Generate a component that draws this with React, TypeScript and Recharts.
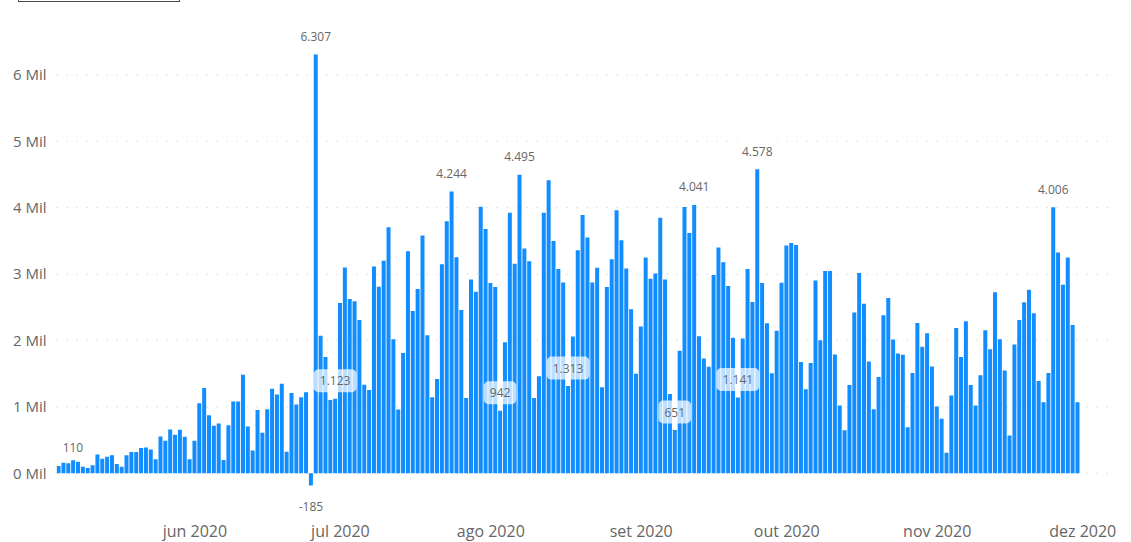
import React from 'react';
import { BarChart, Bar, XAxis, YAxis, CartesianGrid, LabelList } from 'recharts';

// Daily values from 2020-05-04 (day 0) to 2020-11-30 (day 210)
const startDate = '2020-05-04';
const dailyValues: number[] = [
  110, 160, 150, 195, 175, 100, 80, 120, 285, 220,
  250, 270, 140, 100, 270, 320, 320, 380, 390, 360,
  210, 555, 490, 660, 580, 655, 550, 210, 490, 1055,
  1285, 875, 715, 750, 200, 725, 1080, 1080, 1485, 705,
  345, 955, 610, 965, 1275, 1185, 1350, 325, 1210, 1035,
  1145, 1220, -185, 6307, 2070, 1750, 1105, 1123, 2565, 3100,
  2625, 2590, 2310, 1335, 1255, 3115, 2810, 3200, 3705, 2020,
  960, 1810, 3345, 2445, 2775, 3580, 2080, 1145, 1420, 3150,
  3795, 4244, 3255, 2460, 1135, 2920, 2735, 4015, 3680, 2865,
  2805, 942, 1975, 3925, 3155, 4495, 3385, 3195, 1135, 1460,
  3925, 4415, 3500, 3075, 2875, 1313, 2060, 3360, 3890, 3550,
  2875, 3095, 1295, 2805, 3225, 3960, 3510, 3085, 2470, 1500,
  2210, 3250, 2930, 3010, 3850, 2920, 1195, 651, 1845, 4010,
  3620, 4041, 2065, 1730, 1605, 2985, 3400, 3180, 2820, 2040,
  1141, 2030, 3075, 2580, 4578, 2865, 2260, 1505, 2145, 2870,
  3430, 3470, 3440, 1675, 1265, 1660, 2905, 2005, 3045, 3045,
  1790, 1020, 650, 1330, 2420, 3015, 2555, 1685, 965, 1450,
  2380, 2640, 2015, 1805, 1785, 695, 1510, 2265, 1905, 2110,
  1610, 1005, 820, 310, 1170, 2190, 1750, 2290, 1330, 1020,
  1475, 2155, 1870, 2725, 2020, 1550, 570, 1940, 2310, 2575,
  2765, 2410, 1390, 1070, 1510, 4006, 3325, 2840, 3250, 2235,
  1070,
];

// Day offsets (from startDate) of the first day of each month shown on the axis
const monthTickDays = [28, 58, 89, 120, 150, 181, 211];
const monthTickLabels = ['jun 2020', 'jul 2020', 'ago 2020', 'set 2020', 'out 2020', 'nov 2020', 'dez 2020'];

const yTicks = [0, 1000, 2000, 3000, 4000, 5000, 6000];

// Days that carry a data label
const labeledDays = [0, 52, 53, 57, 81, 91, 95, 105, 127, 131, 140, 144, 205];

const data = dailyValues.map((v, i) => ({
  day: i,
  v,
  lbl: labeledDays.includes(i) ? v : null,
}));

const FONT = "'Open Sans', 'Noto Sans', sans-serif";
const PLOT_LEFT = 56.6;
const BAR_COLOR = '#118DFF';
const TEXT_COLOR = '#666666';

const formatPt = (n: number): string => {
  const neg = n < 0;
  const s = Math.abs(Math.round(n)).toString();
  const withSep = s.replace(/\B(?=(\d{3})+(?!\d))/g, '.');
  return (neg ? '-' : '') + withSep;
};

const textWidth = (t: string): number => {
  let w = 0;
  for (const ch of t) {
    if (ch === '.') w += 3.3;
    else if (ch === '-') w += 4.5;
    else w += 6.9;
  }
  return w;
};

const renderLabel = (props: any) => {
  const { x, y, width, height, value } = props;
  if (value === null || value === undefined) return null;
  const num = Number(value);
  const top = Math.min(Number(y), Number(y) + Number(height));
  const bottom = Math.max(Number(y), Number(y) + Number(height));
  const text = formatPt(num);
  const bw = textWidth(text) + 12;
  const bh = 23;
  let cx = Number(x) + Number(width) / 2;
  if (cx - bw / 2 < PLOT_LEFT) cx = PLOT_LEFT + bw / 2;
  const cy = num < 0 ? bottom + 21 : top - 18;
  return (
    <g>
      <rect x={cx - bw / 2} y={cy - bh / 2} width={bw} height={bh} rx={5} ry={5} fill="#ffffff" fillOpacity={0.72} />
      <text x={cx} y={cy} textAnchor="middle" dominantBaseline="central" fontSize={12} fontFamily={FONT} fill={TEXT_COLOR}>
        {text}
      </text>
    </g>
  );
};

export default function App() {
  return (
    <div style={{ position: 'absolute', left: 0, top: 0, width: 1131, height: 542, background: '#fff', overflow: 'hidden' }}>
      <div
        style={{
          position: 'absolute',
          left: 18,
          top: -40,
          width: 162,
          height: 42,
          boxSizing: 'border-box',
          border: '1px solid #4a4a4a',
        }}
      />
      <BarChart
        width={1131}
        height={542}
        data={data}
        margin={{ top: 8.5, right: 16.7, bottom: 0, left: 0 }}
      >
        <CartesianGrid vertical={false} horizontalValues={yTicks} stroke="#c6c6c6" strokeDasharray="1 9" />
        <XAxis
          type="number"
          dataKey="day"
          domain={[-0.5, 217.5]}
          ticks={monthTickDays}
          interval={0}
          tickFormatter={(d: number) => monthTickLabels[monthTickDays.indexOf(d)] ?? ''}
          axisLine={false}
          tickLine={false}
          height={35.5}
          tickMargin={13}
          tick={{ fill: TEXT_COLOR, fontSize: 16, fontFamily: FONT }}
          allowDataOverflow
        />
        <YAxis
          type="number"
          domain={[-500, 7000]}
          ticks={yTicks}
          interval={0}
          tickFormatter={(v: number) => `${v / 1000} Mil`}
          axisLine={false}
          tickLine={false}
          width={PLOT_LEFT}
          tickMargin={4}
          tick={{ fill: TEXT_COLOR, fontSize: 15, fontFamily: FONT }}
          allowDataOverflow
        />
        <Bar dataKey="v" fill={BAR_COLOR} barSize={4} isAnimationActive={false}>
          <LabelList dataKey="lbl" content={renderLabel} />
        </Bar>
      </BarChart>
    </div>
  );
}
